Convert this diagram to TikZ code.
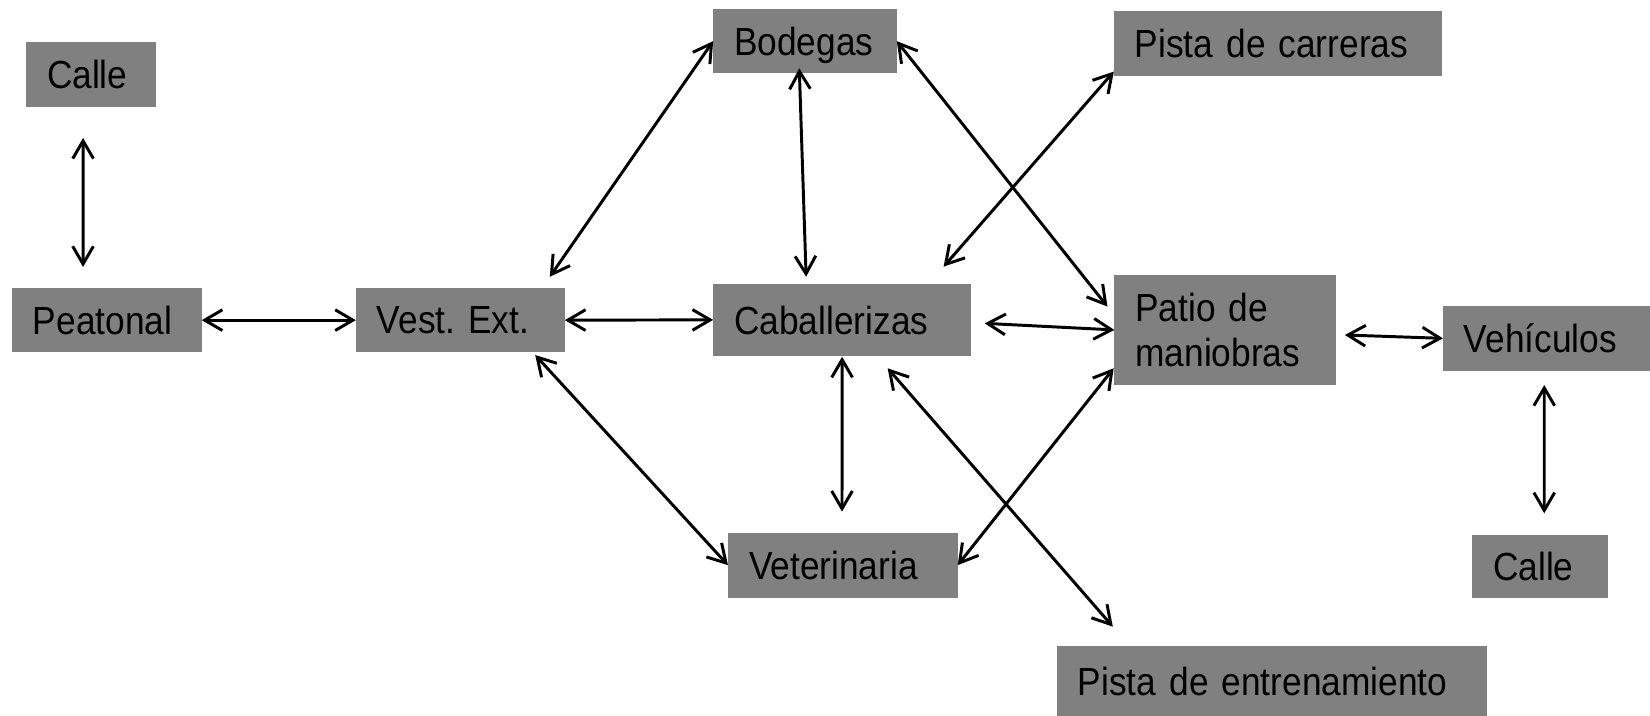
\documentclass[tikz,border=0pt]{standalone}
\usepackage{fontspec}
\setmainfont{Liberation Sans}[FakeStretch=0.9]
\usepackage{tikz}
\usetikzlibrary{calc, arrows.meta}
\frenchspacing
\definecolor{gris}{RGB}{128,128,128}
\tikzset{>={Straight Barb[length=4.8pt,width=5.6pt]}}
\tikzset{zona/.style = {fill = gris, anchor = north west, inner xsep = 2mm, inner ysep = 0pt, outer sep = 0pt, align = left, text depth = 0pt, font = \fontsize{10.6}{12}\selectfont},
flecha/.style = {<->, line width = 0.8pt}}

\begin{document}
\begin{tikzpicture}[x = 1mm, y = -1mm]
\useasboundingbox (0,0) rectangle (156.8,68);
\node[zona, text width = 8.37mm, minimum height = 6.17mm] (calleA) at (2.47,3.99) {Calle};
\node[zona, text width = 14.04mm, minimum height = 6.11mm] (peatonal) at (1.13,27.37) {Peatonal};
\node[zona, text width = 15.86mm, minimum height = 6.11mm] (vestext) at (33.82,27.37) {Vest. Ext.};
\node[zona, text width = 13.45mm, minimum height = 6.11mm] (bodegas) at (67.77,0.86) {Bodegas};
\node[zona, text width = 27.17mm, minimum height = 6.17mm] (carreras) at (105.85,1.05) {Pista de carreras};
\node[zona, text width = 20.51mm, minimum height = 6.8mm] (caballerizas) at (67.77,27.0) {Caballerizas};
\node[zona, text width = 17.05mm, minimum height = 10.41mm, text depth = ] (patio) at (105.9,26.15) {Patio de\\maniobras};
\node[zona, text width = 15.7mm, minimum height = 6.15mm] (vehiculos) at (137.12,29.08) {Vehículos};
\node[zona, text width = 17.83mm, minimum height = 6.18mm] (veterinaria) at (69.18,50.62) {Veterinaria};
\node[zona, text width = 8.96mm, minimum height = 6.02mm] (calleB) at (139.89,50.84) {Calle};
\node[zona, text width = 36.91mm, minimum height = 6.8mm] (entrenamiento) at (100.44,61.39) {Pista de entrenamiento};

\draw[flecha] ($(calleA.south)+(-0.76,2.95)$) -- ($(peatonal.north)+(-2.26,-2.0)$);
\draw[flecha] (peatonal.east) -- (vestext.west);
\draw[flecha] ($(vestext.north east)+(-1.43,-1.07)$) -- (bodegas.west);
\draw[flecha] (vestext.east) -- (caballerizas.west);
\draw[flecha] ($(vestext.south east)+(-2.82,0.26)$) -- (veterinaria.west);
\draw[flecha] ($(bodegas.south)+(-0.54,-0.47)$) -- ($(caballerizas.north)+(-3.42,-0.7)$);
\draw[flecha] (bodegas.east) -- ($(patio.north west)+(-0.66,2.99)$);
\draw[flecha] ($(carreras.south west)+(0,-0.42)$) -- ($(caballerizas.north east)+(-2.61,-1.66)$);
\draw[flecha] ($(caballerizas.east)+(1.3,0.33)$) -- (patio.west);
\draw[flecha] ($(caballerizas.south)+(0,0.1)$) -- ($(veterinaria.north)+(-0.08,-2.0)$);
\draw[flecha] ($(caballerizas.south)+(4.33,1.2)$) -- ($(entrenamiento.north west)+(5.31,-1.84)$);
\draw[flecha] (veterinaria.east) -- ($(patio.south west)+(-0.07,-1.56)$);
\draw[flecha] ($(patio.east)+(0.85,0.48)$) -- (vehiculos.west);
\draw[flecha] ($(vehiculos.south)+(-0.22,1.36)$) -- ($(calleB.north)+(0.38,-2.06)$);
\end{tikzpicture}
\end{document}
